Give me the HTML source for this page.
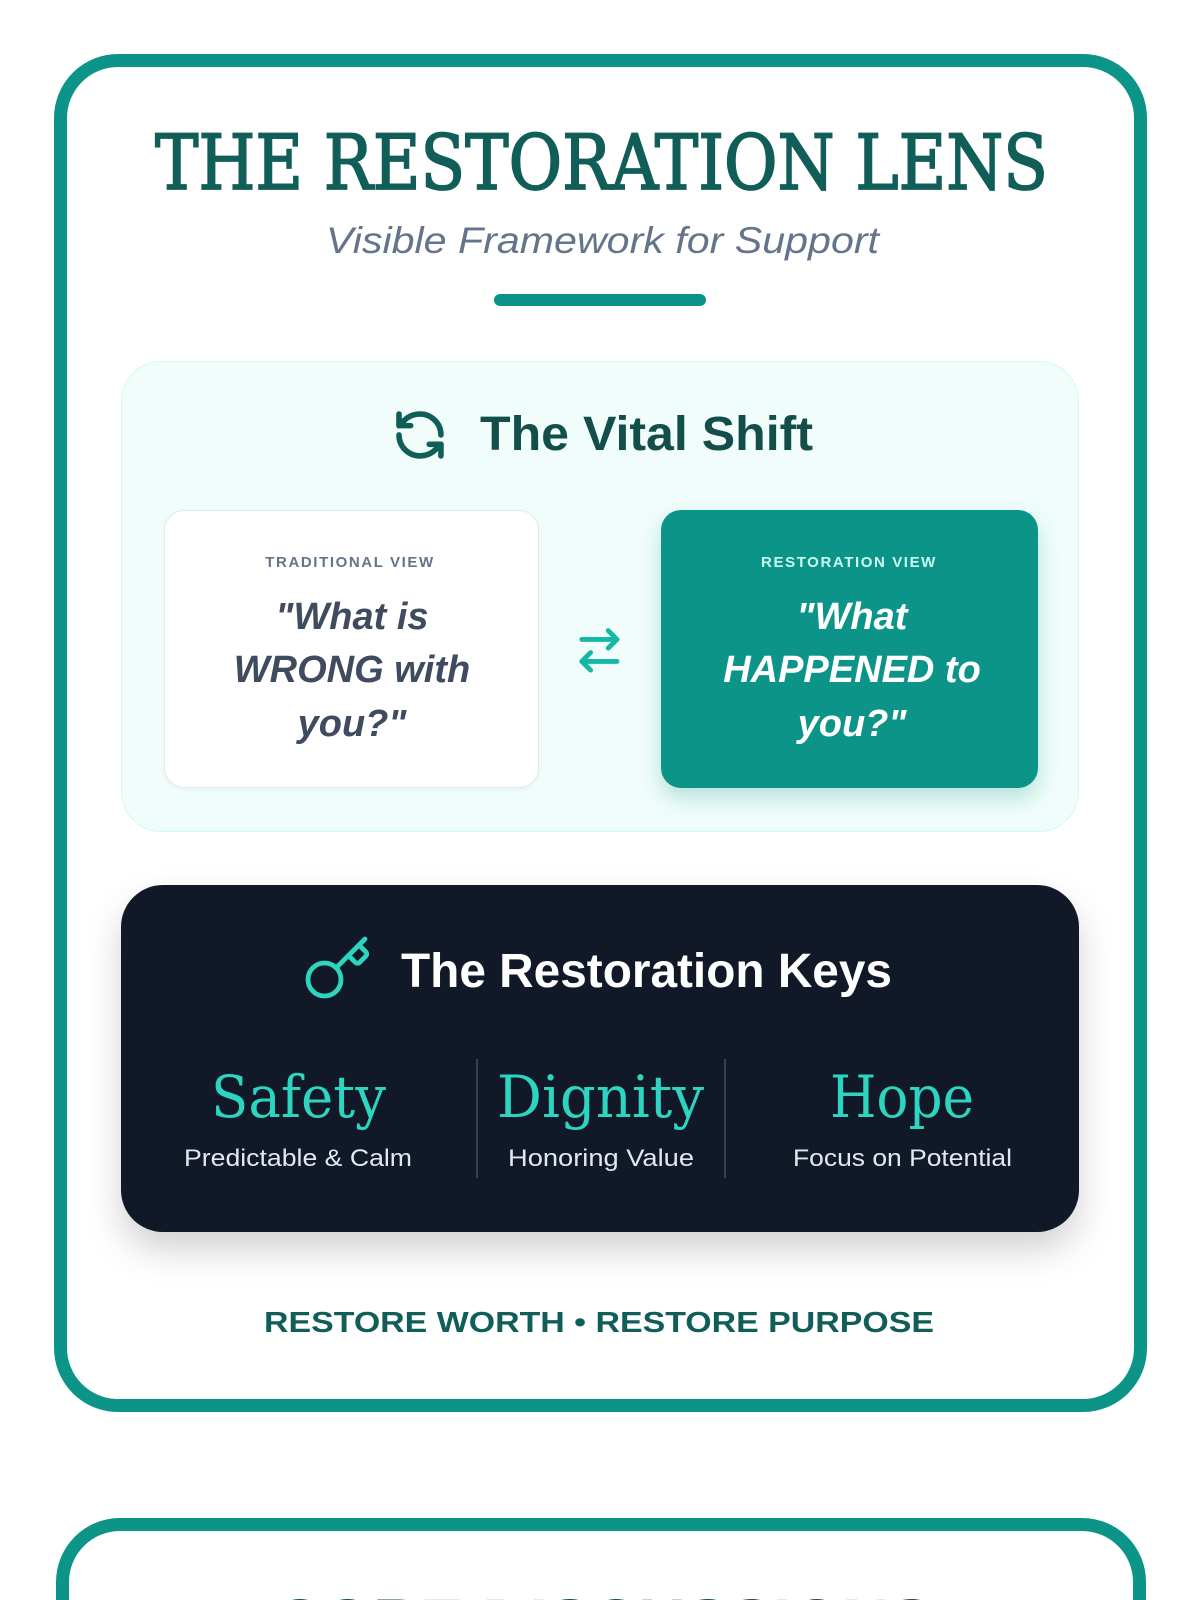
<!DOCTYPE html>
<html><head><meta charset="utf-8"><style>
html,body{margin:0;padding:0;background:#fff;width:1200px;height:1600px;overflow:hidden;position:relative}
.abs{position:absolute;box-sizing:border-box}
svg{position:absolute;left:0;top:0;overflow:hidden}
</style></head><body>
<div class="abs" style="left:54px;top:54px;width:1093px;height:1358px;border:13px solid #0d9488;border-radius:64px;"></div>
<div class="abs" style="left:0;top:1500px;width:1200px;height:100px;overflow:hidden;">
<div class="abs" style="left:56px;top:18px;width:1090px;height:82px;border:13px solid #0d9488;border-bottom:none;border-radius:64px 64px 0 0;"></div>
</div>
<div class="abs" style="left:494px;top:294px;width:212px;height:12px;background:#0d9488;border-radius:6px;"></div>
<div class="abs" style="left:121px;top:361px;width:958px;height:471px;background:#f0fdfa;border:1.5px solid #ccfbf1;border-radius:40px;"></div>
<div class="abs" style="left:164px;top:510px;width:375px;height:278px;background:#fff;border:1.5px solid #e2e8f0;border-radius:20px;box-shadow:0 2px 4px rgba(0,0,0,0.04)"></div>
<div class="abs" style="left:661px;top:510px;width:377px;height:278px;background:#0d9488;border-radius:20px;box-shadow:0 10px 20px rgba(13,148,136,0.25)"></div>
<div class="abs" style="left:121px;top:885px;width:958px;height:347px;background:#111827;border-radius:42px;box-shadow:0 18px 36px rgba(0,0,0,0.18)"></div>
<div class="abs" style="left:476px;top:1059px;width:1.5px;height:119px;background:#374151"></div>
<div class="abs" style="left:724px;top:1059px;width:1.5px;height:119px;background:#374151"></div>
<svg width="1200" height="1600" viewBox="0 0 1200 1600">
<text x="155" y="189" textLength="893" lengthAdjust="spacingAndGlyphs" font-family="DejaVu Serif, serif" font-size="76" fill="#115e59" stroke="#115e59" stroke-width="1.8">THE RESTORATION LENS</text>
<text x="326" y="253" textLength="553" lengthAdjust="spacingAndGlyphs" font-family="Liberation Sans, sans-serif" font-style="italic" font-size="37" fill="#64748b">Visible Framework for Support</text>
<g transform="translate(392,407) scale(2.33)" fill="none" stroke="#115e59" stroke-width="2.4" stroke-linecap="round" stroke-linejoin="round">
<path d="M21 12a9 9 0 0 0-9-9 9.75 9.75 0 0 0-6.74 2.74L3 8"/><path d="M3 3v5h5"/><path d="M3 12a9 9 0 0 0 9 9 9.75 9.75 0 0 0 6.74-2.74L21 16"/><path d="M16 16h5v5"/></g>
<text x="480" y="450" textLength="333" lengthAdjust="spacingAndGlyphs" font-family="Liberation Sans, sans-serif" font-weight="bold" font-size="48" fill="#134e4a">The Vital Shift</text>
<text x="350" y="567" text-anchor="middle" font-family="Liberation Sans, sans-serif" font-weight="bold" font-size="15" letter-spacing="1.6" fill="#64748b">TRADITIONAL VIEW</text>
<g font-family="Liberation Sans, sans-serif" font-weight="bold" font-style="italic" font-size="38" fill="#3f4b5e" text-anchor="middle">
<text x="352" y="629">"What is</text><text x="352" y="682">WRONG with</text><text x="352" y="736">you?"</text></g>
<text x="849" y="567" text-anchor="middle" font-family="Liberation Sans, sans-serif" font-weight="bold" font-size="15" letter-spacing="1.6" fill="#ccfbf1">RESTORATION VIEW</text>
<g font-family="Liberation Sans, sans-serif" font-weight="bold" font-style="italic" font-size="38" fill="#fff" text-anchor="middle">
<text x="852" y="629">"What</text><text x="852" y="682">HAPPENED to</text><text x="852" y="736">you?"</text></g>
<g transform="translate(573,624) scale(2.2)" fill="none" stroke="#14b8a6" stroke-width="2.2" stroke-linecap="round" stroke-linejoin="round">
<path d="m16 3 4 4-4 4"/><path d="M20 7H4"/><path d="m8 21-4-4 4-4"/><path d="M4 17h16"/></g>
<g transform="translate(302,933) scale(3)" fill="none" stroke="#2dd4bf" stroke-width="1.6" stroke-linecap="round" stroke-linejoin="round">
<path d="m15.5 7.5 2.3 2.3a1 1 0 0 0 1.4 0l2.1-2.1a1 1 0 0 0 0-1.4L19 4"/><path d="m21 2-9.6 9.6"/><circle cx="7.5" cy="15.5" r="5.5"/></g>
<text x="401" y="987" textLength="491" lengthAdjust="spacingAndGlyphs" font-family="Liberation Sans, sans-serif" font-weight="bold" font-size="48" fill="#fff">The Restoration Keys</text>
<g font-family="DejaVu Serif, serif" font-size="58" fill="#2dd4bf">
<text x="211" y="1117" textLength="175" lengthAdjust="spacingAndGlyphs">Safety</text>
<text x="497" y="1117" textLength="207" lengthAdjust="spacingAndGlyphs">Dignity</text>
<text x="830" y="1117" textLength="144" lengthAdjust="spacingAndGlyphs">Hope</text></g>
<g font-family="Liberation Sans, sans-serif" font-size="24" fill="#e2e8f0">
<text x="184" y="1166" textLength="228" lengthAdjust="spacingAndGlyphs">Predictable &amp; Calm</text>
<text x="508" y="1166" textLength="186" lengthAdjust="spacingAndGlyphs">Honoring Value</text>
<text x="793" y="1166" textLength="219" lengthAdjust="spacingAndGlyphs">Focus on Potential</text></g>
<text x="264" y="1332" textLength="670" lengthAdjust="spacingAndGlyphs" font-family="Liberation Sans, sans-serif" font-weight="bold" font-size="29" fill="#115e59">RESTORE WORTH • RESTORE PURPOSE</text>
<text x="275" y="1644" textLength="658" lengthAdjust="spacingAndGlyphs" font-family="Liberation Sans, sans-serif" font-weight="bold" font-size="64" fill="#134e4a">CORE DISCUSSIONS</text>
</svg>
</body></html>
